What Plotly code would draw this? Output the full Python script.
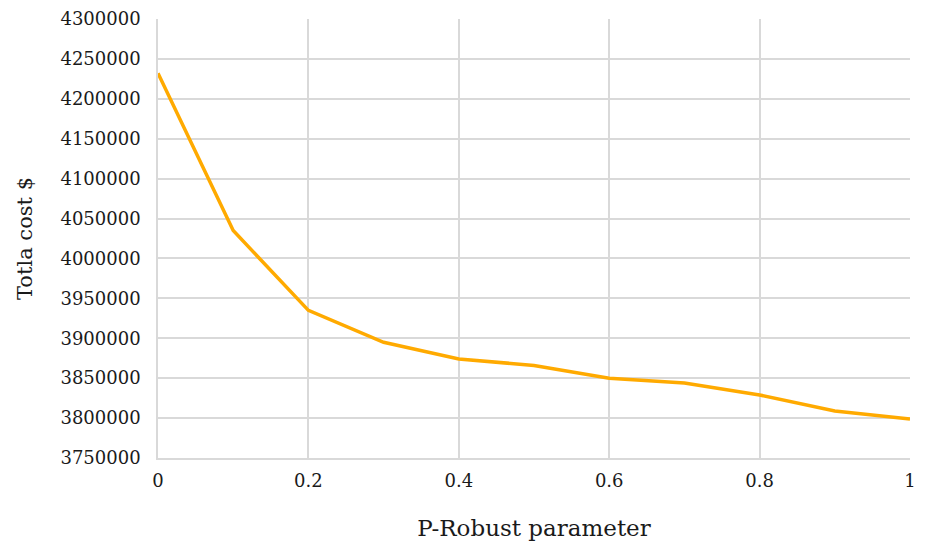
import plotly.graph_objects as go

x_vals = [0, 0.1, 0.2, 0.3, 0.4, 0.5, 0.6, 0.7, 0.8, 0.9, 1.0]
total_cost = [4232000, 4035000, 3935000, 3895000, 3874000, 3866000,
              3850000, 3844000, 3829000, 3809000, 3799000]

x_ticks = [0, 0.2, 0.4, 0.6, 0.8, 1]
x_tick_labels = ["0", "0.2", "0.4", "0.6", "0.8", "1"]
y_ticks = list(range(3750000, 4300001, 50000))
y_tick_labels = [str(v) for v in y_ticks]

FONT = "DejaVu Serif"
GRID = "#d9d9d9"

fig = go.Figure()
fig.add_trace(go.Scatter(
    x=x_vals, y=total_cost, mode="lines",
    line=dict(color="#ffaa00", width=3.5),
    showlegend=False,
))

fig.update_layout(
    width=925, height=542,
    margin=dict(l=150, r=23, t=11, b=92),
    paper_bgcolor="white", plot_bgcolor="white",
    font=dict(family=FONT, color="#1a1a1a", size=18),
)
fig.update_xaxes(
    range=[0, 1], tickvals=x_ticks, ticktext=x_tick_labels,
    showgrid=True, gridcolor=GRID, gridwidth=1.5,
    showline=True, linecolor=GRID, linewidth=1.5, mirror=False,
    zeroline=False, ticks="", ticklabelstandoff=6, automargin=False,
    tickfont=dict(family=FONT, size=18),
    title=dict(text="P-Robust parameter", font=dict(family=FONT, size=23), standoff=30),
)
fig.update_yaxes(
    range=[3750000, 4300000], tickvals=y_ticks, ticktext=y_tick_labels,
    showgrid=True, gridcolor=GRID, gridwidth=1.5,
    showline=True, linecolor=GRID, linewidth=1.5,
    zeroline=False, ticks="", ticklabelstandoff=12, automargin=False,
    tickfont=dict(family=FONT, size=18),
    title=dict(text="Totla cost $", font=dict(family=FONT, size=21), standoff=22),
)

fig.write_html("out.html")
